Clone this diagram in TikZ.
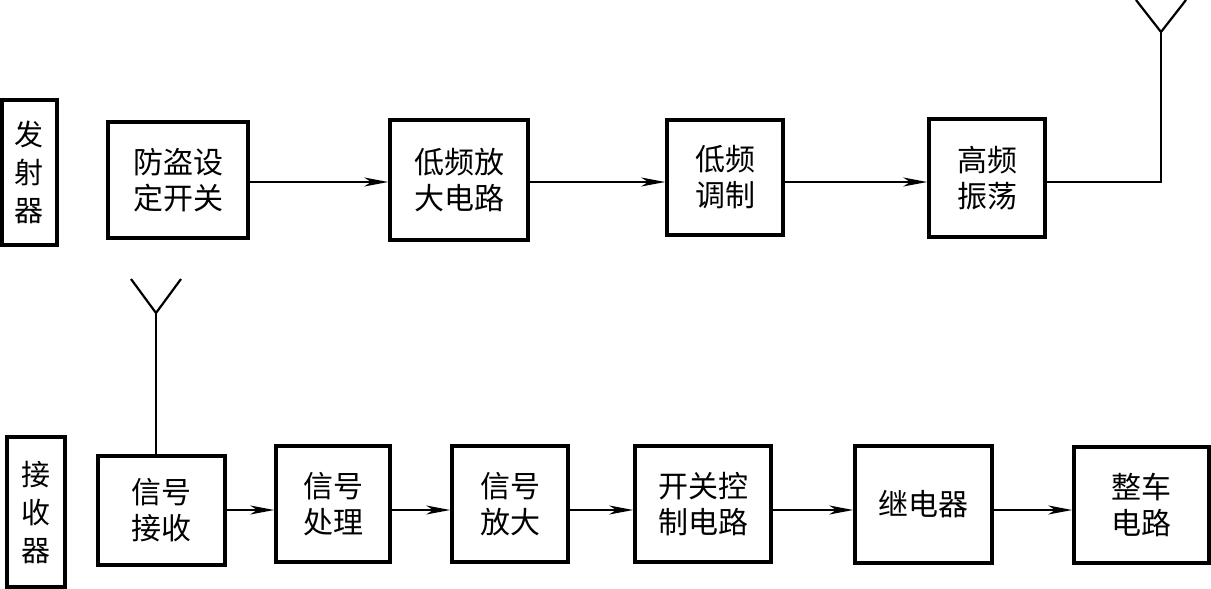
\documentclass[tikz,border=0pt]{standalone}
\usepackage{fontspec}
\newfontfamily\cjk{Noto Sans CJK SC}
\usetikzlibrary{arrows.meta}
\tikzset{
  blk/.style={draw, line width=3.6pt, rectangle, inner sep=0pt, align=center,
    font=\cjk\fontsize{30}{36}\selectfont},
  lbl/.style={draw, line width=3.6pt, rectangle, inner sep=0pt, align=center,
    font=\cjk\fontsize{29}{38}\selectfont},
  wire/.style={line width=2.2pt},
  arr/.style={line width=2.2pt, -{Stealth[length=24pt,width=9pt,inset=7pt]}},
}
\begin{document}
\begin{tikzpicture}[x=1pt,y=-1pt]
\useasboundingbox (0,0) rectangle (1211,589);
% label boxes
\node[lbl, minimum width=55pt, minimum height=145pt] (tx) at (29.5,172.5) {发\\射\\器};
\node[lbl, minimum width=58pt, minimum height=150pt] (rx) at (36,512) {接\\收\\器};
% upper row
\node[blk, minimum width=140pt, minimum height=116pt] (a1) at (178,180) {防盗设\\定开关};
\node[blk, minimum width=138pt, minimum height=120pt] (a2) at (459,180) {低频放\\大电路};
\node[blk, minimum width=116pt, minimum height=115pt] (a3) at (725,177.5) {低频\\调制};
\node[blk, minimum width=116pt, minimum height=118pt] (a4) at (987,178) {高频\\振荡};
\coordinate (rowA) at (0,182);
\coordinate (antA) at (1161,32);
\coordinate (antAl) at (1136,0);
\coordinate (antAr) at (1186,0);
\draw[arr] (a1.east |- rowA) -- (a2.west |- rowA);
\draw[arr] (a2.east |- rowA) -- (a3.west |- rowA);
\draw[arr] (a3.east |- rowA) -- (a4.west |- rowA);
\draw[wire] (a4.east |- rowA) -| (antA);
\draw[wire] (antAl) -- (antA) -- (antAr);
% lower row
\node[blk, minimum width=127pt, minimum height=109pt] (b1) at (161.5,510.5) {信号\\接收};
\node[blk, minimum width=114pt, minimum height=116pt] (b2) at (333,504) {信号\\处理};
\node[blk, minimum width=116pt, minimum height=116pt] (b3) at (510,504) {信号\\放大};
\node[blk, minimum width=136pt, minimum height=116pt] (b4) at (703,504) {开关控\\制电路};
\node[blk, minimum width=137pt, minimum height=117pt] (b5) at (923.5,504.5) {继电器};
\node[blk, minimum width=135pt, minimum height=116pt] (b6) at (1141.5,505) {整车\\电路};
\coordinate (rowB) at (0,510);
\coordinate (antB) at (156,313);
\coordinate (antBl) at (131,279);
\coordinate (antBr) at (181,279);
\draw[arr] (b1.east |- rowB) -- (b2.west |- rowB);
\draw[arr] (b2.east |- rowB) -- (b3.west |- rowB);
\draw[arr] (b3.east |- rowB) -- (b4.west |- rowB);
\draw[arr] (b4.east |- rowB) -- (b5.west |- rowB);
\draw[arr] (b5.east |- rowB) -- (b6.west |- rowB);
\draw[wire] (b1.north -| antB) -- (antB);
\draw[wire] (antBl) -- (antB) -- (antBr);
\end{tikzpicture}
\end{document}
